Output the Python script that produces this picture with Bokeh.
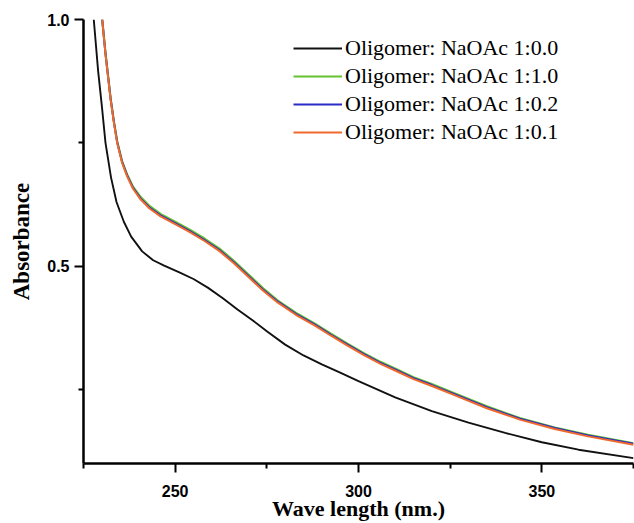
from bokeh.plotting import figure
from bokeh.models import FixedTicker, PrintfTickFormatter, Legend, LegendItem, Range1d
from bokeh.embed import file_html
from bokeh.resources import INLINE

# ---- data ----
wl_black = [227.8, 229, 230, 231, 232.5, 234, 236, 238, 241, 244, 247, 251, 255, 259,
            263, 267, 271, 275, 280, 285, 290, 295, 300, 310, 320, 330, 340, 350, 360, 375]
abs_black = [1.00, 0.895, 0.825, 0.75, 0.68, 0.630, 0.590, 0.560, 0.530, 0.512, 0.501,
             0.488, 0.474, 0.456, 0.435, 0.412, 0.391, 0.368, 0.341, 0.319, 0.301, 0.284,
             0.267, 0.234, 0.206, 0.183, 0.162, 0.143, 0.128, 0.111]

wl_col = [230.1, 231, 232.4, 233.3, 234.2, 235.5, 236.9, 238.5, 240.6, 243, 246, 250, 254,
          258, 262, 266, 270, 274, 278, 283, 288, 292.5, 297, 301.6, 306, 310.7, 315, 320,
          326, 335, 344, 353.5, 362.6, 375]
abs_green = [1.00, 0.932, 0.840, 0.793, 0.752, 0.713, 0.686, 0.661, 0.640, 0.622, 0.606,
             0.590, 0.574, 0.556, 0.536, 0.511, 0.483, 0.455, 0.430, 0.405, 0.384, 0.363,
             0.343, 0.323, 0.306, 0.290, 0.275, 0.261, 0.243, 0.216, 0.192, 0.173, 0.158, 0.141]
abs_blue = [1.00, 0.931, 0.839, 0.792, 0.751, 0.712, 0.684, 0.659, 0.637, 0.619, 0.603,
            0.587, 0.571, 0.553, 0.533, 0.508, 0.480, 0.452, 0.428, 0.403, 0.382, 0.361,
            0.341, 0.321, 0.304, 0.288, 0.273, 0.259, 0.241, 0.214, 0.191, 0.172, 0.157, 0.140]
abs_orange = [1.00, 0.93, 0.837, 0.79, 0.749, 0.71, 0.682, 0.657, 0.635, 0.617, 0.601,
              0.585, 0.569, 0.551, 0.531, 0.506, 0.478, 0.450, 0.426, 0.401, 0.380, 0.359,
              0.339, 0.319, 0.302, 0.286, 0.271, 0.257, 0.239, 0.212, 0.189, 0.170, 0.155, 0.138]

labels = ["Oligomer: NaOAc 1:0.0", "Oligomer: NaOAc 1:1.0",
          "Oligomer: NaOAc 1:0.2", "Oligomer: NaOAc 1:0.1"]
colors = ["#111111", "#66c22e", "#2b2bc8", "#ee6a2c"]

x_major = [250, 300, 350]
x_minor = [225, 275, 325, 375]
y_major = [0.5, 1.0]
y_minor = [0.25, 0.75]

p = figure(width=634, height=523, x_range=Range1d(225, 375), y_range=Range1d(0.1, 1.0),
           output_backend="svg", toolbar_location=None,
           min_border_left=83, min_border_top=19, min_border_right=1, min_border_bottom=58,
           x_axis_label="Wave length (nm.)", y_axis_label="Absorbance")
p.outline_line_color = None
p.xgrid.visible = False
p.ygrid.visible = False
p.background_fill_color = "white"
p.border_fill_color = "white"

r0 = p.line(wl_black, abs_black, line_color=colors[0], line_width=1.9)
r1 = p.line(wl_col, abs_green, line_color=colors[1], line_width=2.2)
r2 = p.line(wl_col, abs_blue, line_color=colors[2], line_width=2)
r3 = p.line(wl_col, abs_orange, line_color=colors[3], line_width=2)

for ax in (p.xaxis[0], p.yaxis[0]):
    ax.axis_line_width = 2.5
    ax.axis_line_color = "black"
    ax.major_tick_line_width = 2
    ax.major_tick_line_color = "black"
    ax.minor_tick_line_width = 2
    ax.minor_tick_line_color = "black"
    ax.major_tick_in = 0
    ax.major_tick_out = 9
    ax.minor_tick_in = 0
    ax.minor_tick_out = 5
    ax.major_label_text_font = "Liberation Sans"
    ax.major_label_text_font_style = "bold"
    ax.major_label_text_font_size = "16px"
    ax.major_label_text_color = "black"
    ax.axis_label_text_font = "Liberation Serif"
    ax.axis_label_text_font_style = "bold"
    ax.axis_label_text_color = "black"

p.xaxis[0].ticker = FixedTicker(ticks=x_major, minor_ticks=x_minor)
p.yaxis[0].ticker = FixedTicker(ticks=y_major, minor_ticks=y_minor)
p.yaxis[0].formatter = PrintfTickFormatter(format="%.1f")
p.xaxis[0].major_label_standoff = 12
p.xaxis[0].axis_label_standoff = -4
p.xaxis[0].axis_label_text_font_size = "22px"
p.yaxis[0].major_label_standoff = 5
p.yaxis[0].axis_label_standoff = 10
p.yaxis[0].axis_label_text_font_size = "23px"

legend = Legend(items=[LegendItem(label=labels[i], renderers=[r])
                       for i, r in enumerate([r0, r1, r2, r3])],
                location=(210, 318), padding=0, margin=0, spacing=2,
                glyph_width=49, glyph_height=26, label_height=26, label_standoff=3,
                label_text_font="Liberation Serif", label_text_font_size="22px",
                label_text_color="black",
                border_line_alpha=0, background_fill_alpha=0)
p.add_layout(legend)

open("out.html", "w").write(file_html(p, INLINE))
